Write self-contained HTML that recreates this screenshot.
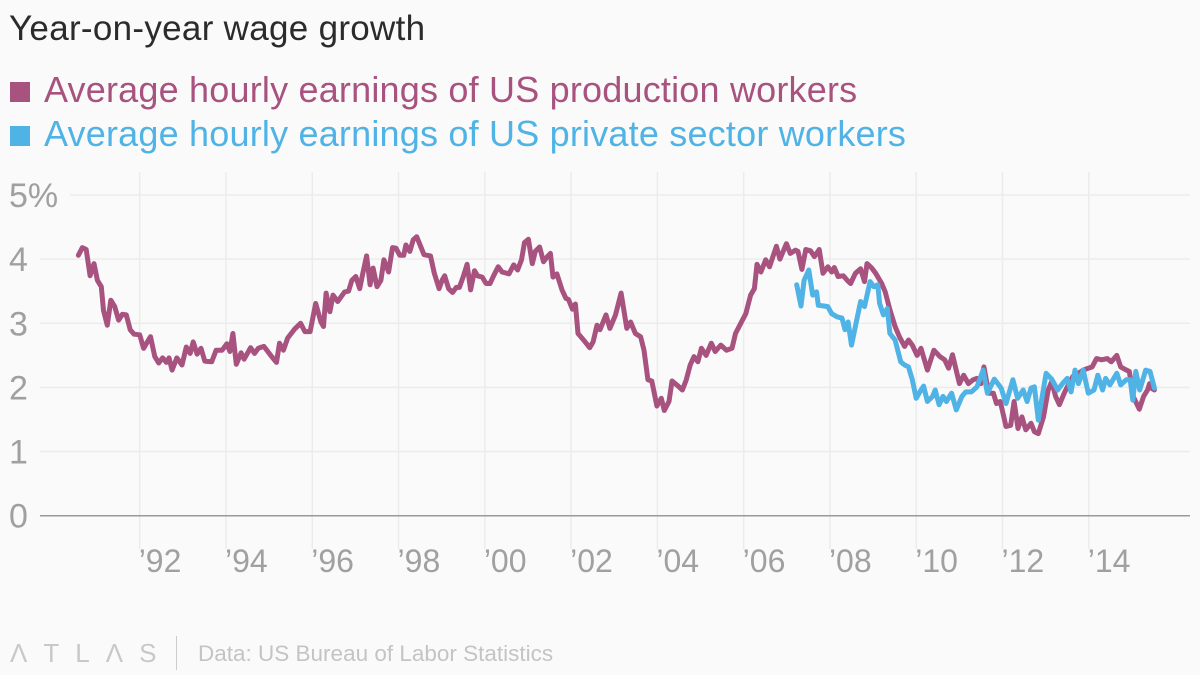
<!DOCTYPE html>
<html><head><meta charset="utf-8">
<style>
html,body{margin:0;padding:0;background:#fafafa;}
body{width:1200px;height:675px;overflow:hidden;font-family:"Liberation Sans",sans-serif;position:relative;}
.t{position:absolute;left:9px;top:9px;font-size:35px;color:#2b2b2b;letter-spacing:0.3px;}
.lg{position:absolute;left:10px;font-size:36px;white-space:nowrap;letter-spacing:0.2px;}
.sw{display:inline-block;width:20px;height:20px;margin-right:14px;vertical-align:0px;}
</style></head><body>
<div class="t">Year-on-year wage growth</div>
<div class="lg" style="top:69px;color:#a8527f"><span class="sw" style="background:#a8527f"></span>Average hourly earnings of US production workers</div>
<div class="lg" style="top:113px;color:#4fb3e6"><span class="sw" style="background:#4fb3e6"></span>Average hourly earnings of US private sector workers</div>
<svg id="c" width="1200" height="675" style="position:absolute;left:0;top:0"></svg>
<div style="position:absolute;left:10px;top:638px;font-size:26px;color:#c8c8c8;letter-spacing:16px">ΛTLΛS</div>
<div style="position:absolute;left:176px;top:636px;width:1px;height:34px;background:#ccc"></div>
<div style="position:absolute;left:198px;top:641px;font-size:22.5px;color:#c4c4c4">Data: US Bureau of Labor Statistics</div>
<script>
const yTicks=[0,1,2,3,4,5];
const yTickLabels=["0","1","2","3","4","5%"];
const xTicks=[1992,1994,1996,1998,2000,2002,2004,2006,2008,2010,2012,2014];
const xTickLabels=["’92","’94","’96","’98","’00","’02","’04","’06","’08","’10","’12","’14"];
const prodDates=[1990.58,1990.67,1990.76,1990.85,1990.94,1991.02,1991.11,1991.16,1991.25,1991.33,1991.42,1991.51,1991.60,1991.69,1991.78,1991.87,1992.00,1992.09,1992.25,1992.35,1992.44,1992.53,1992.62,1992.68,1992.75,1992.86,1992.98,1993.08,1993.17,1993.24,1993.33,1993.42,1993.51,1993.67,1993.77,1993.91,1994.02,1994.09,1994.16,1994.24,1994.35,1994.42,1994.57,1994.66,1994.75,1994.88,1995.06,1995.17,1995.24,1995.33,1995.43,1995.59,1995.73,1995.83,1995.95,1996.08,1996.20,1996.26,1996.32,1996.41,1996.48,1996.59,1996.75,1996.84,1996.92,1997.01,1997.10,1997.17,1997.26,1997.34,1997.41,1997.50,1997.59,1997.66,1997.77,1997.86,1997.94,1998.03,1998.12,1998.17,1998.26,1998.34,1998.42,1998.50,1998.59,1998.74,1998.83,1998.94,1999.01,1999.07,1999.16,1999.25,1999.34,1999.41,1999.50,1999.59,1999.67,1999.76,1999.83,1999.94,2000.03,2000.12,2000.21,2000.31,2000.40,2000.56,2000.67,2000.76,2000.85,2000.92,2001.01,2001.10,2001.17,2001.27,2001.36,2001.45,2001.52,2001.58,2001.67,2001.79,2001.88,2001.94,2002.03,2002.10,2002.16,2002.29,2002.43,2002.51,2002.60,2002.67,2002.81,2002.90,2003.03,2003.16,2003.29,2003.38,2003.49,2003.61,2003.69,2003.78,2003.87,2003.99,2004.09,2004.16,2004.27,2004.34,2004.45,2004.58,2004.67,2004.76,2004.85,2004.94,2005.02,2005.13,2005.25,2005.34,2005.47,2005.60,2005.73,2005.81,2005.91,2006.05,2006.16,2006.25,2006.31,2006.40,2006.51,2006.60,2006.76,2006.84,2006.99,2007.08,2007.20,2007.26,2007.35,2007.44,2007.55,2007.64,2007.75,2007.84,2007.95,2008.04,2008.10,2008.19,2008.31,2008.40,2008.48,2008.59,2008.71,2008.80,2008.86,2008.97,2009.06,2009.20,2009.28,2009.39,2009.51,2009.61,2009.73,2009.82,2009.91,2010.02,2010.11,2010.26,2010.41,2010.55,2010.66,2010.75,2010.84,2011.00,2011.10,2011.21,2011.32,2011.41,2011.50,2011.57,2011.68,2011.79,2011.86,2011.95,2012.08,2012.19,2012.27,2012.36,2012.45,2012.54,2012.66,2012.74,2012.83,2012.95,2013.06,2013.14,2013.23,2013.32,2013.43,2013.54,2013.63,2013.76,2013.87,2013.99,2014.08,2014.18,2014.30,2014.43,2014.52,2014.65,2014.74,2014.87,2014.94,2015.03,2015.17,2015.27,2015.36,2015.41,2015.45,2015.52];
const prodValues=[4.06,4.18,4.15,3.74,3.93,3.67,3.57,3.2,2.97,3.36,3.26,3.05,3.14,3.13,2.9,2.83,2.82,2.61,2.79,2.48,2.38,2.46,2.39,2.46,2.27,2.46,2.35,2.63,2.53,2.71,2.52,2.61,2.41,2.40,2.58,2.58,2.68,2.56,2.84,2.36,2.54,2.44,2.62,2.53,2.61,2.64,2.48,2.39,2.69,2.58,2.77,2.91,3.0,2.87,2.87,3.31,3.02,2.95,3.47,3.18,3.44,3.34,3.49,3.5,3.67,3.73,3.54,3.77,4.05,3.6,3.86,3.57,3.67,3.99,3.8,4.18,4.17,4.06,4.06,4.22,4.12,4.3,4.35,4.22,4.07,4.05,3.78,3.54,3.67,3.74,3.54,3.48,3.56,3.56,3.73,3.92,3.52,3.82,3.74,3.72,3.62,3.62,3.75,3.88,3.8,3.77,3.91,3.83,3.99,4.26,4.31,3.93,4.12,4.19,3.96,4.04,4.09,3.72,3.77,3.52,3.39,3.37,3.22,3.3,2.84,2.74,2.62,2.71,2.97,2.90,3.13,2.92,3.13,3.47,2.92,3.02,2.84,2.79,2.58,2.12,2.1,1.71,1.83,1.64,1.78,2.1,2.04,1.96,2.12,2.35,2.48,2.4,2.61,2.5,2.69,2.56,2.66,2.58,2.61,2.84,2.97,3.15,3.44,3.54,3.92,3.8,3.99,3.88,4.2,4.0,4.24,4.09,4.14,4.12,3.84,4.15,4.13,4.04,4.15,3.78,3.88,3.8,3.87,3.73,3.74,3.67,3.62,3.78,3.85,3.65,3.93,3.86,3.78,3.62,3.49,3.21,2.95,2.79,2.64,2.74,2.66,2.5,2.61,2.27,2.58,2.48,2.43,2.3,2.51,2.06,2.19,2.06,2.12,2.14,2.06,2.32,1.91,1.91,1.75,1.78,1.39,1.41,1.78,1.36,1.54,1.34,1.44,1.31,1.28,1.54,1.96,2.09,1.86,1.73,1.91,2.06,2.17,2.22,2.27,2.3,2.32,2.45,2.43,2.45,2.4,2.5,2.32,2.27,2.25,1.86,1.66,1.86,1.96,2.06,1.99,1.96];
const privDates=[2007.23,2007.33,2007.40,2007.51,2007.60,2007.69,2007.73,2007.86,2007.95,2008.04,2008.17,2008.28,2008.35,2008.42,2008.50,2008.62,2008.71,2008.80,2008.93,2009.02,2009.11,2009.15,2009.24,2009.33,2009.39,2009.51,2009.64,2009.73,2009.82,2009.91,2010.00,2010.11,2010.17,2010.26,2010.38,2010.44,2010.53,2010.62,2010.70,2010.82,2010.93,2011.06,2011.15,2011.28,2011.41,2011.55,2011.65,2011.81,2011.97,2012.08,2012.24,2012.35,2012.48,2012.57,2012.66,2012.74,2012.83,2012.92,2013.01,2013.14,2013.28,2013.39,2013.50,2013.59,2013.68,2013.76,2013.87,2013.99,2014.12,2014.21,2014.32,2014.39,2014.49,2014.65,2014.74,2014.87,2014.96,2015.02,2015.09,2015.18,2015.32,2015.42,2015.52];
const privValues=[3.60,3.27,3.67,3.83,3.44,3.49,3.28,3.27,3.26,3.15,3.10,3.08,2.90,3.02,2.66,3.05,3.34,3.26,3.65,3.57,3.6,3.31,3.13,3.23,2.84,2.74,2.4,2.35,2.32,2.12,1.83,1.96,2.02,1.78,1.86,1.96,1.73,1.86,1.78,1.91,1.65,1.86,1.93,1.93,2.01,2.27,1.91,2.13,1.99,1.75,2.12,1.83,1.96,1.78,1.99,2.01,1.49,1.86,2.22,2.13,1.96,2.06,2.14,1.93,2.27,2.06,2.27,1.91,1.96,2.19,1.96,2.14,2.04,2.22,2.04,2.12,2.12,1.80,2.25,1.96,2.27,2.25,1.99];

const NS='http://www.w3.org/2000/svg';
const svg=document.getElementById('c');
const X=t=>139.7+(t-1992)*43.14;
const Y=v=>515.7-v*64.14;
function mk(tag,attrs,parent){const e=document.createElementNS(NS,tag);for(const k in attrs)e.setAttribute(k,attrs[k]);(parent||svg).appendChild(e);return e;}

xTicks.forEach((t,i)=>{
  const l=mk('line',{x1:X(t),x2:X(t),y1:172,y2:549,stroke:'#ececec','stroke-width':1.5});
  
  
  const tx=mk('text',{x:X(t)-1,y:572,'font-size':32,fill:'#a0a0a0','font-family':'Liberation Sans, sans-serif'});
  tx.textContent=xTickLabels[i];
  
  
});
yTicks.forEach((v,i)=>{
  const x1=v===5?70:40;
  const l=mk('line',{x1:x1,x2:1190,y1:Y(v),y2:Y(v),stroke:v===0?'#999':'#ececec','stroke-width':1.5});
  
  
  const tx=mk('text',{x:9,y:Y(v)+12,'font-size':34,fill:'#a0a0a0','font-family':'Liberation Sans, sans-serif'});
  tx.textContent=yTickLabels[i];
  
  
});
function line(dates,vals,color,name){
  const d=dates.map((t,i)=>(i?'L':'M')+X(t).toFixed(1)+','+Y(vals[i]).toFixed(1)).join('');
  const p=mk('path',{d:d,fill:'none',stroke:color,'stroke-width':5,'stroke-linejoin':'round','stroke-linecap':'round'});
  
  
}
line(prodDates,prodValues,'#a8527f','production-workers-line');
line(privDates,privValues,'#4fb3e6','private-sector-workers-line');
</script>
</body></html>
